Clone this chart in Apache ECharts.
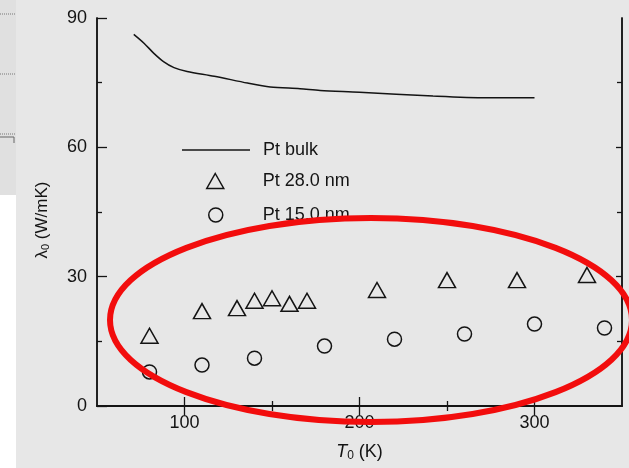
<!DOCTYPE html>
<html>
<head>
<meta charset="utf-8">
<title>Pt thermal conductivity</title>
<script src="https://cdn.jsdelivr.net/npm/echarts@6/dist/echarts.min.js"></script>
<style>
  html, body { margin: 0; padding: 0; background: #e7e7e7; }
  #chart { width: 629px; height: 468px; }
</style>
</head>
<body>
<div id="chart"></div>
<script>
// Bulk Pt conductivity curve (temperature K, W/mK)
const bulkT = [71, 77, 82.5, 88, 94, 101.5, 117, 136, 149, 166, 177.5, 200, 242, 272.5, 300];
const bulkK = [86.2, 84.1, 81.8, 79.9, 78.5, 77.6, 76.5, 74.9, 74.0, 73.6, 73.2, 72.8, 71.9, 71.5, 71.5];

// 28.0 nm film
const film28T = [80, 110, 130, 140, 150, 160, 170, 210, 250, 290, 330];
const film28K = [16.3, 22.0, 22.7, 24.4, 25.0, 23.7, 24.4, 26.9, 29.2, 29.2, 30.4];

// 15.0 nm film
const film15T = [80, 110, 140, 180, 220, 260, 300, 340];
const film15K = [7.9, 9.5, 11.1, 13.9, 15.5, 16.7, 19.0, 18.1];

// Axis ticks
const xMajor = [100, 200, 300];
const xMinor = [150, 250];
const yMajor = [0, 30, 60, 90];
const yMinor = [15, 45, 75];

const seriesNames = ['Pt bulk', 'Pt 28.0 nm', 'Pt 15.0 nm'];

const pairs = (xs, ys) => xs.map((x, i) => [x, ys[i]]);

const ink = '#141414';
const fontFamily = '"Liberation Sans", Arial, Helvetica, sans-serif';
const axisLine = { show: true, lineStyle: { color: ink, width: 1.5 } };

function xAx(position, ticks, len, labels, extra) {
  return Object.assign({
    type: 'value', gridIndex: 0, position, min: 50, max: 350,
    axisLine: axisLine,
    axisTick: { show: true, inside: true, length: len, customValues: ticks, lineStyle: { color: ink, width: 1.3 } },
    axisLabel: labels ? { show: true, customValues: labels, margin: 8, color: ink, fontSize: 18, fontFamily } : { show: false },
    splitLine: { show: false }
  }, extra || {});
}
function yAx(position, ticks, len, labels, extra) {
  return Object.assign({
    type: 'value', gridIndex: 0, position, min: 0, max: 90,
    axisLine: axisLine,
    axisTick: { show: true, inside: true, length: len, customValues: ticks, lineStyle: { color: ink, width: 1.3 } },
    axisLabel: labels ? { show: true, customValues: labels, margin: 10, color: ink, fontSize: 18, fontFamily } : { show: false },
    splitLine: { show: false }
  }, extra || {});
}

const legendText = { color: ink, fontSize: 18, fontFamily };
const hollow = { color: 'rgba(0,0,0,0)', borderColor: ink, borderWidth: 1.5, opacity: 1 };

const chart = echarts.init(document.getElementById('chart'), null, { renderer: 'canvas' });
chart.setOption({
  backgroundColor: '#e7e7e7',
  animation: false,
  grid: { left: 97, right: 7, top: 18, bottom: 62, containLabel: false },
  xAxis: [
    xAx('bottom', xMajor, 9, xMajor, {
      name: '{i|T}{s|0}{n| (K)}', nameLocation: 'middle', nameGap: 36,
      nameTextStyle: {
        color: ink, fontFamily,
        rich: {
          i: { fontSize: 18, fontStyle: 'italic', fontFamily, color: ink },
          s: { fontSize: 12, fontFamily, color: ink, padding: [8, 0, 0, 0] },
          n: { fontSize: 18, fontFamily, color: ink }
        }
      }
    }),
    xAx('bottom', xMinor, 5, null),
    xAx('top', xMajor, 9, null),
    xAx('top', xMinor, 5, null)
  ],
  yAxis: [
    yAx('left', yMajor, 10, yMajor, {
      name: '{l|λ}{s|0}{n| (W/mK)}', nameLocation: 'middle', nameRotate: 90, nameGap: 46,
      nameTextStyle: {
        color: ink, fontFamily, padding: [0, 16, 0, 0],
        rich: {
          l: { fontSize: 17, fontFamily, color: ink },
          s: { fontSize: 11, fontFamily, color: ink, padding: [7, 0, 0, 0] },
          n: { fontSize: 17, fontFamily, color: ink }
        }
      }
    }),
    yAx('left', yMinor, 5, null),
    yAx('right', [30, 60], 6, null),
    yAx('right', yMinor, 5, null)
  ],
  legend: [
    {
      data: [seriesNames[0]], left: 182, top: 141, padding: 0, icon: 'rect',
      itemWidth: 68, itemHeight: 1.6, itemStyle: { color: ink, borderWidth: 0 },
      textStyle: Object.assign({ padding: [0, 0, 0, 8] }, legendText), selectedMode: false
    },
    {
      data: [seriesNames[1]], left: 206, top: 172, padding: 0, itemWidth: 17, itemHeight: 15,
      itemStyle: hollow,
      textStyle: Object.assign({ padding: [0, 0, 0, 34] }, legendText), selectedMode: false
    },
    {
      data: [seriesNames[2]], left: 208, top: 206, padding: 0, itemWidth: 14, itemHeight: 14,
      itemStyle: hollow,
      textStyle: Object.assign({ padding: [0, 0, 0, 35] }, legendText), selectedMode: false
    }
  ],
  series: [
    {
      name: seriesNames[0], type: 'line', xAxisIndex: 0, yAxisIndex: 0,
      data: pairs(bulkT, bulkK), smooth: 0.3, symbol: 'none',
      lineStyle: { color: ink, width: 1.5 }, itemStyle: { color: ink }
    },
    {
      name: seriesNames[1], type: 'scatter', xAxisIndex: 0, yAxisIndex: 0,
      data: pairs(film28T, film28K), symbol: 'triangle', symbolSize: [17, 15],
      itemStyle: hollow
    },
    {
      name: seriesNames[2], type: 'scatter', xAxisIndex: 0, yAxisIndex: 0,
      data: pairs(film15T, film15K), symbol: 'circle', symbolSize: 14,
      itemStyle: hollow
    }
  ],
  graphic: [
    // neighbouring panel strip on the left edge
    { type: 'rect', shape: { x: 0, y: 0, width: 16, height: 195 }, style: { fill: '#e0e0e0' }, z: 0 },
    { type: 'rect', shape: { x: 0, y: 195, width: 16, height: 273 }, style: { fill: '#ffffff' }, z: 0 },
    { type: 'line', shape: { x1: 0, y1: 14, x2: 16, y2: 14 }, style: { stroke: '#777', lineWidth: 1, lineDash: [1, 1] }, z: 1 },
    { type: 'line', shape: { x1: 0, y1: 74, x2: 16, y2: 74 }, style: { stroke: '#777', lineWidth: 1, lineDash: [1, 1] }, z: 1 },
    { type: 'line', shape: { x1: 0, y1: 134, x2: 16, y2: 134 }, style: { stroke: '#777', lineWidth: 1, lineDash: [1, 1] }, z: 1 },
    { type: 'polyline', shape: { points: [[0, 137], [14, 137], [14, 143]] }, style: { stroke: '#666', lineWidth: 1, fill: null }, z: 1 },
    // red highlight ellipse around the film data
    {
      type: 'ellipse', shape: { cx: 371, cy: 320, rx: 261, ry: 102 },
      style: { fill: null, stroke: '#f20d0d', lineWidth: 6 }, z: 100
    }
  ]
});
</script>
</body>
</html>
